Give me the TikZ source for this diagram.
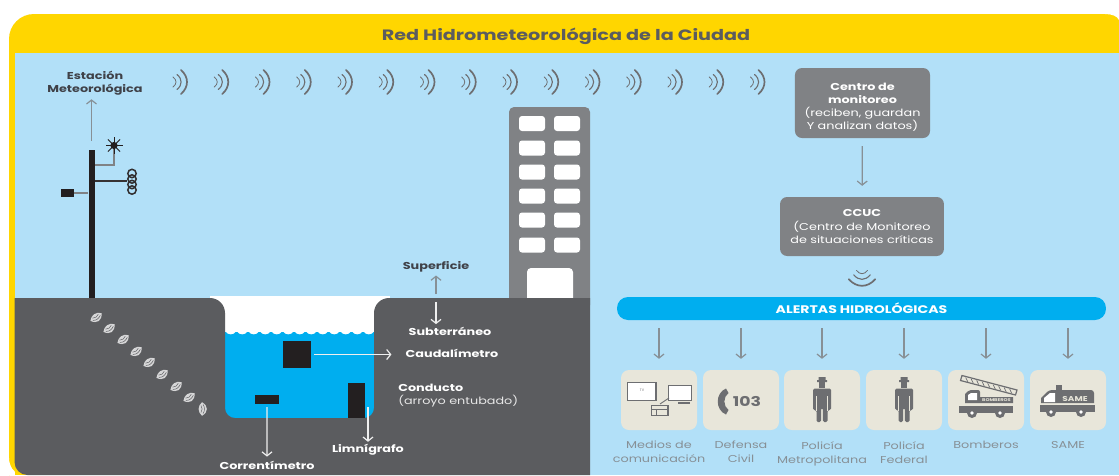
\documentclass[tikz,border=0pt]{standalone}
\usepackage{fontspec}
\setmainfont{Poppins}
\usetikzlibrary{arrows.meta,positioning,calc}
\definecolor{amarillo}{HTML}{FFD600}
\definecolor{cielo}{HTML}{B2E0F8}
\definecolor{agua}{HTML}{00AEEF}
\definecolor{suelo}{HTML}{5B5C5F}
\definecolor{gris}{HTML}{808285}
\definecolor{crema}{HTML}{E8E6DA}
\definecolor{negro}{HTML}{231F20}
\definecolor{oscuro}{HTML}{3F4148}
\definecolor{icono}{HTML}{6D6E71}
\tikzset{
  wide/.style={xscale=1.28, transform shape},
  darktext/.style={wide, inner sep=0pt, align=center, text=oscuro, font=\bfseries\fontsize{10}{13}\selectfont},
  whitetext/.style={wide, inner sep=0pt, align=center, text=white, font=\bfseries\fontsize{10}{13}\selectfont},
  thintext/.style={wide, inner sep=0pt, align=center, text=gris!85!cielo, font=\fontsize{10}{14}\selectfont},
  monbox/.style={wide, fill=gris, rounded corners=7pt, inner sep=0pt, align=center, text=white, font=\fontsize{10}{13.2}\selectfont},
  alertbox/.style={fill=crema, rounded corners=8pt, minimum width=76pt, minimum height=60pt, inner sep=0pt},
  block/.style={fill=negro, inner sep=0pt},
  flow/.style={-{Straight Barb[length=4pt,width=10pt]}, gris!85!cielo, line width=1.2pt},
  flowwhite/.style={flow, white!90!suelo},
  iconline/.style={draw=icono, line width=1.2pt}
}
\newcommand{\signal}[5]{
  \begin{scope}[shift={(#1,#2)},rotate=#3,scale=#4,#5,line cap=round]
    \draw[line width=1.7pt] (2,-12) .. controls (10,-5) and (10,5) .. (2,12);
    \draw[line width=1.1pt] (-2,-7.5) .. controls (3.5,-3) and (3.5,3) .. (-2,7.5);
    \draw[line width=.8pt] (-6,-5) .. controls (-2,-2) and (-2,2) .. (-6,5);
  \end{scope}
}
\newcommand{\sensor}[3]{
  \begin{scope}[shift={(#1,#2)},rotate=#3]
    \fill[white!75!suelo] (0,-6.8) .. controls (6.5,-3) and (6.5,3) .. (0,6.8) .. controls (-4.5,3) and (-4.5,-3) .. cycle;
    \draw[suelo, line width=.45pt] (1,-4.5) .. controls (3,-2) and (3,2) .. (1,4.5)
      (-1,-3.5) .. controls (.5,-1.5) and (.5,1.5) .. (-1,3.5);
  \end{scope}
}
\newcommand{\officer}[1]{
  \begin{scope}[shift={(#1,0)}]
    \fill[icono] (-3.5,377) rectangle (3.5,380) (-5,380) rectangle (5,382);
    \fill[icono] (-3.2,382) rectangle (3.2,388);
    \fill[icono, rounded corners=1.5pt] (-9,388.5) -- (9,388.5) -- (9,410) -- (5.5,410) -- (5.5,422) -- (.8,422) -- (.8,408)
      -- (-.8,408) -- (-.8,422) -- (-5.5,422) -- (-5.5,410) -- (-9,410) -- cycle;
    \draw[crema, line width=.7pt] (-5.6,396) -- (-5.6,410.5) (5.6,396) -- (5.6,410.5);
  \end{scope}
}
\newcommand{\wheel}[2]{
  \fill[icono] (#1,#2) circle (5);
  \fill[white] (#1,#2) circle (1.8);
}
\begin{document}
\begin{tikzpicture}[x=1pt,y=-1pt]
  \useasboundingbox (0,0) rectangle (1119,475);
  \fill[white] (0,0) rectangle (1119,475);
  % marco y cielo
  \fill[amarillo, rounded corners=25pt] (9,520) -- (9,14) -- (1135,14) -- (1135,60) -- (9,60) -- cycle;
  \fill[amarillo] (9,40) rectangle (40,475);
  \fill[white] (1105,14) .. controls (1112,14) and (1117,16) .. (1119,20) -- (1119,14) -- cycle;
  \fill[white] (8,458) -- (9,458) .. controls (9,466) and (14,473) .. (20,475) -- (8,475) -- cycle;
  \fill[cielo] (14.5,53) rectangle (1119,475);
  \fill[amarillo] (14.5,458) rectangle (32,475);
  \node[wide, inner sep=0pt, text=suelo, font=\bfseries\fontsize{15}{17}\selectfont] (title) at (566,36.5) {Red Hidrometeorológica de la Ciudad};
  \foreach \i in {0,...,14}{
    \signal{179+41.25*\i}{82}{0}{1}{draw=icono}
  }

  % edificio
  \fill[gris, rounded corners=5pt] (509,107) rectangle (590,310);
  \foreach \y in {123.5,148,172,196,220,245}{
    \fill[white, rounded corners=3pt] (519,\y-7.5) rectangle (545,\y+7.5);
    \fill[white, rounded corners=3pt] (554,\y-7.5) rectangle (580,\y+7.5);
  }
  \fill[white, rounded corners=4pt] (527,268) rectangle (573,310);

  % conducto
  \fill[white] (210,296) rectangle (390,340);
  \fill[agua] (210,332) rectangle (390,425);
  \foreach \i in {0,...,12}{
    \fill[white] (225+11.5*\i,331) .. controls (225+11.5*\i+3,335.5) and (225+11.5*\i+8.5,335.5) .. (225+11.5*\i+11.5,331) -- cycle;
  }
  \fill[suelo] (14.5,298) [rounded corners=15pt] -- (225,298) [rounded corners=10pt] -- (225,418) -- (374,418)
    [rounded corners=15pt] -- (374,298) [sharp corners] -- (590,298) -- (590,475) [rounded corners=13pt] -- (14.5,475) [sharp corners] -- cycle;
  \foreach \x/\y in {96/317,109/328,123/339,136/351,149/362,162/374,176/386,189/397}{
    \sensor{\x}{\y}{-55}
  }
  \sensor{202}{409}{0}

  % estacion
  \node[fill=negro, inner sep=0pt, minimum width=6pt, minimum height=148pt] (pole) at (91.5,224) {};
  \node[darktext] (station) at (95,83) {Estación\\Meteorológica};
  \draw[flow, shorten >=4pt] (pole.north) ++(0,-9) -- (station.south -| pole.north);
  \draw[gris, line width=1.5pt] (95,165) -- (114,165) -- (114,149);
  \draw[negro!80!gris, line width=1.2pt] (95,181) -- (127,181);
  \draw[gris, line width=1.2pt] (88,193) -- (73,193);
  \node[block, minimum width=13pt, minimum height=8pt] (logger) at (67.5,193) {};
  \fill[negro] (114,145.5) circle (3.6);
  \foreach \a in {0,45,...,315}{
    \draw[negro, line width=.9pt] (114,145.5) -- ++(\a:8.5);
  }
  \foreach \y in {173.5,179,184.5,190}{
    \draw[negro!85!gris, line width=1.5pt] (132,\y) circle (4.2);
  }

  % sensores y medidas
  \coordinate (ground) at (436,298);
  \node[darktext] (surface) at (436,267) {Superficie};
  \node[whitetext] (under) at (450,331.5) {Subterráneo};
  \draw[flow, shorten >=3pt] (ground) ++(0,-4) -- (surface.south -| ground);
  \draw[flowwhite, shorten >=3pt] (ground) ++(0,4) -- (under.north -| ground);
  \node[block, minimum width=28pt, minimum height=27pt] (flowmeter) at (297,354.5) {};
  \node[whitetext] (flowlabel) at (452,353.5) {Caudalímetro};
  \coordinate (flowend) at (flowlabel.west |- flowmeter);
  \draw[flowwhite, shorten <=3pt, shorten >=14pt] (flowmeter) -- (flowend);
  \node[whitetext, anchor=west] (duct) at (398,387.5) {Conducto};
  \node[thintext, anchor=west, text=white!85!suelo] (ductsub) at (398,401.5) {(arroyo entubado)};
  \node[block, minimum width=24pt, minimum height=9pt] (current) at (267,399.5) {};
  \node[whitetext] (currentlabel) at (267,465) {Correntímetro};
  \draw[flowwhite, shorten <=3pt, shorten >=4pt] (current) -- (currentlabel);
  \node[block, minimum width=17pt, minimum height=35pt] (limni) at (356.5,400.5) {};
  \node[whitetext] (limnilabel) at (368,449.5) {Limnígrafo};
  \coordinate (limnitop) at (368,407);
  \draw[flowwhite, shorten >=2pt] (limnitop) -- (limnilabel.north -| limnitop);

  % monitoreo
  \node[monbox, minimum width=105.5pt, minimum height=70pt] (center) at (862.5,103)
    {\rule{0pt}{16pt}\textbf{Centro de}\\\textbf{monitoreo}\\(reciben, guardan\\Y analizan datos)};
  \node[monbox, minimum width=128pt, minimum height=59pt] (ccuc) at (862,226.5)
    {\textbf{CCUC}\\(Centro de Monitoreo\\de situaciones críticas};
  \draw[flow, shorten <=8pt, shorten >=11pt] (center) -- (ccuc);
  \signal{862}{277}{-90}{1.1}{draw=icono}
  \node[wide, fill=agua, rounded corners=11pt, minimum width=382pt, minimum height=23pt, inner sep=0pt,
    text=white, font=\bfseries\fontsize{11}{12}\selectfont] (alerts) at (861.5,308.5) {ALERTAS HIDROLÓGICAS};

  % cajas de alerta
  \foreach \n/\x in {1/659,2/741,3/822,4/904,5/986,6/1068}{
    \node[alertbox] (box\n) at (\x,400) {};
    \draw[flow, shorten <=8pt, shorten >=11pt] (alerts.south -| box\n.north) -- (box\n.north);
  }
  \node[thintext, anchor=north] (lab1) at (659,441) {Medios de\\comunicación};
  \node[thintext, anchor=north] (lab2) at (741,441) {Defensa\\Civil};
  \node[thintext, anchor=north] (lab3) at (822,441) {Policía\\Metropolitana};
  \node[thintext, anchor=north] (lab4) at (904,441) {Policía\\Federal};
  \node[thintext, anchor=north] (lab5) at (986,441) {Bomberos};
  \node[thintext, anchor=north] (lab6) at (1068,441) {SAME};

  % medios
  \draw[iconline, fill=white] (627.5,382.5) rectangle (656,400.5);
  \node[inner sep=0pt, text=icono, font=\fontsize{3.5}{4}\selectfont] (tv) at (642,390) {TV};
  \draw[iconline, fill=white] (668.5,385.5) rectangle (691.5,400.5);
  \draw[icono, line width=2pt] (678,402.5) -- (690,402.5);
  \draw[iconline, line width=.9pt] (660,404) -- (669,398);
  \draw[iconline, fill=crema] (651.5,405.5) rectangle (668,415.5);
  \draw[icono, line width=.8pt] (651.5,409) -- (668,409) (656,409) -- (656,415.5);
  % telefono
  \fill[icono] (726,388.5) .. controls (715,393) and (715,410) .. (726,414.5) -- (728.5,410) .. controls (723,406) and (723,397) .. (728.5,393) -- cycle;
  \node[wide, inner sep=0pt, text=icono, font=\bfseries\fontsize{13.5}{15}\selectfont] (phone) at (747,401.5) {103};
  % policias
  \officer{822}
  \officer{904}
  % autobomba
  \draw[icono, line width=1.2pt, fill=crema] (962,375.5) -- (1017,390) -- (1015.5,395) -- (960.5,380.5) -- cycle;
  \foreach \i in {1,...,9}{
    \draw[icono, line width=.7pt] ($(961.2,378)!\i/10!(1016.2,392.5)$) ++(-1,-2) -- ++(2,4.2);
  }
  \fill[icono] (965,403) -- (965,394) [rounded corners=2pt] -- (969,390) -- (980,390) [sharp corners] -- (980,397) -- (1013,397) -- (1013,403) -- cycle;
  \fill[white] (968,400) -- (968,395) -- (971,393) -- (977,393) -- (977,400) -- cycle;
  \node[wide, inner sep=0pt, text=crema, font=\bfseries\fontsize{4}{5}\selectfont] (truck) at (996.5,400) {BOMBEROS};
  \fill[icono] (959,405.5) rectangle (1013,413);
  \wheel{972}{413}
  \wheel{1000}{413}
  % ambulancia
  \fill[icono] (1056,385) rectangle (1062,390);
  \fill[icono] (1041,403) -- (1041,398) [rounded corners=3pt] -- (1049,390) -- (1094,390) [sharp corners] -- (1094,403) -- cycle;
  \fill[white] (1044,402) -- (1044,398) -- (1050,393) -- (1055,393) -- (1055,402) -- cycle;
  \node[wide, inner sep=0pt, text=crema, font=\bfseries\fontsize{7}{8}\selectfont] (same) at (1075,399) {SAME};
  \fill[icono] (1040,405) rectangle (1095,411.5);
  \wheel{1051}{412}
  \wheel{1081}{412}
\end{tikzpicture}
\end{document}
